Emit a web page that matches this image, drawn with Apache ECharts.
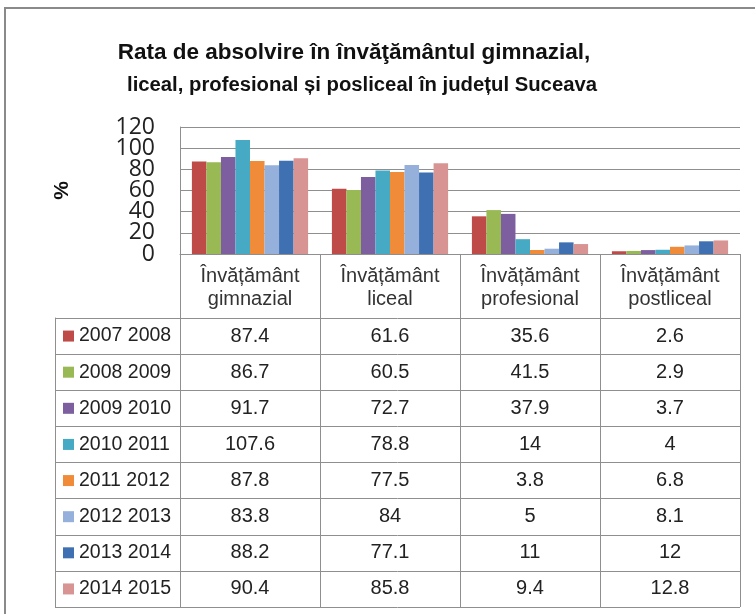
<!DOCTYPE html>
<html>
<head>
<meta charset="utf-8">
<script src="https://cdn.jsdelivr.net/npm/echarts@6/dist/echarts.min.js"></script>
<style>
  html, body { margin: 0; padding: 0; background: #fff; }
  #chart { width: 755px; height: 614px; }
</style>
</head>
<body>
<div id="chart"></div>
<script>
  // categories (header row of the data table)
  const categories = ['Învățământ\ngimnazial', 'Învățământ\nliceal', 'Învățământ\nprofesional', 'Învățământ\npostliceal']
  const years = ['2007 2008', '2008 2009', '2009 2010', '2010 2011', '2011 2012', '2012 2013', '2013 2014', '2014 2015']

  // one array per school year, in category order
  const y2007 = [87.4, 61.6, 35.6, 2.6]
  const y2008 = [86.7, 60.5, 41.5, 2.9]
  const y2009 = [91.7, 72.7, 37.9, 3.7]
  const y2010 = [107.6, 78.8, 14, 4]
  const y2011 = [87.8, 77.5, 3.8, 6.8]
  const y2012 = [83.8, 84, 5, 8.1]
  const y2013 = [88.2, 77.1, 11, 12]
  const y2014 = [90.4, 85.8, 9.4, 12.8]
  const values = [y2007, y2008, y2009, y2010, y2011, y2012, y2013, y2014]

  const yTicks = [0, 20, 40, 60, 80, 100, 120]
  const colors = ['#BE4B48', '#98B954', '#7D5FA0', '#46AAC5', '#F08B39', '#95B0DA', '#3F70B2', '#D89393']

  const sans = '"Liberation Sans", Arial, sans-serif'
  const lineColor = '#8f8f8f'

  // layout
  const plotLeft = 180, plotRight = 740, plotTop = 127, plotBottom = 254
  const tableTop = 318, tableBottom = 607, tableLeft = 55
  const rowH = (tableBottom - tableTop) / years.length

  const chart = echarts.init(document.getElementById('chart'))

  // one hidden-line x axis per table row, its labels are the row's values
  const rowAxes = values.map((vals, i) => ({
    type: 'category',
    gridIndex: 0,
    position: 'bottom',
    offset: tableTop + rowH * i + rowH / 2 - plotBottom,
    data: vals.map(v => String(v)),
    axisLine: { show: false },
    axisTick: { show: false },
    axisLabel: {
      margin: 0,
      interval: 0,
      verticalAlign: 'middle',
      fontFamily: sans,
      fontSize: 20,
      color: '#222'
    }
  }))

  // the tick labels are big and tight, so they are split over two
  // identical value axes (even / odd ticks) to keep all of them visible
  const yLabelAxis = (part) => ({
    type: 'value',
    gridIndex: 0,
    position: 'left',
    min: yTicks[0],
    max: yTicks[yTicks.length - 1],
    interval: yTicks[1] - yTicks[0],
    axisLine: { show: part === 0, lineStyle: { color: lineColor } },
    axisTick: { show: false },
    axisLabel: {
      margin: 25,
      showMinLabel: true,
      showMaxLabel: true,
      hideOverlap: false,
      fontFamily: '"Open Sans", sans-serif',
      fontSize: 23,
      color: '#222',
      formatter: v => (yTicks.indexOf(v) % 2 === part ? String(v) : '')
    },
    splitLine: { show: part === 0, showMinLine: true, showMaxLine: true, lineStyle: { color: lineColor } }
  })

  const yMain = yLabelAxis(0)
  Object.assign(yMain, {
    name: '%',
    nameLocation: 'middle',
    nameRotate: 90,
    nameGap: 107,
    nameMoveOverlap: false,
    nameTextStyle: { fontFamily: sans, fontWeight: 'bold', fontSize: 21, color: '#111' }
  })

  const options = {
    animation: false,
    title: [
      {
        text: 'Rata de absolvire în învăţământul gimnazial,',
        left: 349,
        top: 36,
        textAlign: 'center',
        textStyle: { fontFamily: sans, fontWeight: 'bold', fontSize: 22.5, color: '#111' }
      },
      {
        text: 'liceal, profesional și posliceal în județul Suceava',
        left: 357,
        top: 70,
        textAlign: 'center',
        textStyle: { fontFamily: sans, fontWeight: 'bold', fontSize: 20.3, color: '#111' }
      }
    ],
    legend: {
      data: years,
      orient: 'vertical',
      left: 63,
      top: tableTop,
      padding: 0,
      itemGap: 0,
      itemWidth: 11,
      itemHeight: 11,
      icon: 'rect',
      selectedMode: false,
      textStyle: { fontFamily: sans, fontSize: 19.5, lineHeight: rowH, color: '#222' }
    },
    grid: [
      { left: plotLeft, right: 755 - plotRight, top: plotTop, bottom: 614 - plotBottom },
      { left: tableLeft, right: 755 - plotRight, top: tableTop, bottom: 614 - tableBottom }
    ],
    xAxis: [
      {
        type: 'category',
        gridIndex: 0,
        data: categories,
        axisLine: { show: true, lineStyle: { color: lineColor } },
        axisTick: { show: true, interval: 0, length: tableBottom - plotBottom, lineStyle: { color: lineColor } },
        axisLabel: {
          margin: 11,
          interval: 0,
          fontFamily: sans,
          fontSize: 20,
          lineHeight: 23,
          color: '#333'
        }
      },
      ...rowAxes,
      { type: 'value', gridIndex: 1, show: false, min: 0, max: 1 }
    ],
    yAxis: [
      yMain,
      yLabelAxis(1),
      {
        type: 'value',
        gridIndex: 1,
        min: 0,
        max: years.length,
        interval: 1,
        inverse: true,
        axisLine: { show: true, lineStyle: { color: lineColor } },
        axisTick: { show: false },
        axisLabel: { show: false },
        splitLine: { show: true, showMinLine: true, showMaxLine: true, lineStyle: { color: lineColor } }
      }
    ],
    graphic: [
      {
        type: 'rect',
        shape: { x: 5, y: 8, width: 800, height: 700 },
        style: { fill: 'none', stroke: '#8a8a8a', lineWidth: 2 },
        silent: true
      }
    ],
    series: values.map((vals, i) => ({
      name: years[i],
      type: 'bar',
      xAxisIndex: 0,
      yAxisIndex: 0,
      data: vals,
      barGap: 0,
      barCategoryGap: '17%',
      itemStyle: { color: colors[i] }
    }))
  }

  chart.setOption(options)
</script>
</body>
</html>
